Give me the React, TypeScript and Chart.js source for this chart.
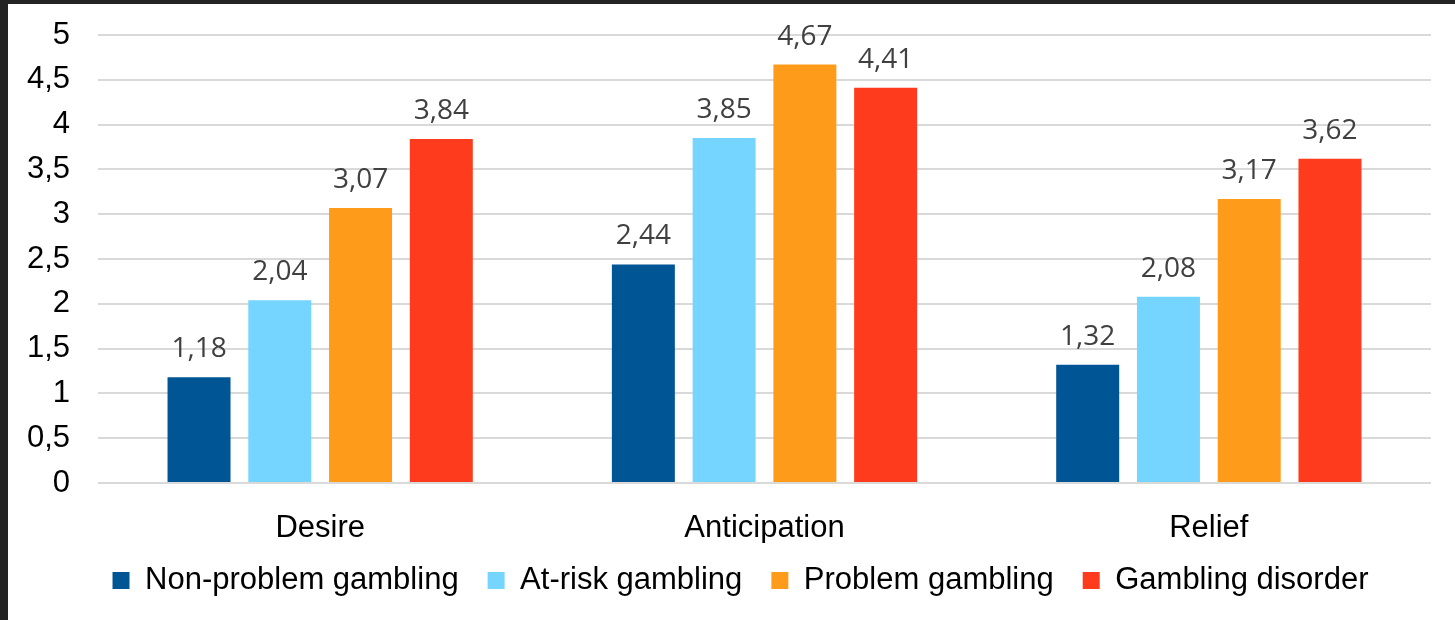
import React, { useEffect, useRef } from "react";
import { Chart, registerables } from "chart.js";

Chart.register(...registerables);

const categories = ["Desire", "Anticipation", "Relief"];
const seriesNames = ["Non-problem gambling", "At-risk gambling", "Problem gambling", "Gambling disorder"];
const nonProblem = [1.18, 2.44, 1.32];
const atRisk = [2.04, 3.85, 2.08];
const problem = [3.07, 4.67, 3.17];
const disorder = [3.84, 4.41, 3.62];
const seriesColors = ["#005594", "#75D5FE", "#FF9B1B", "#FF3B1D"];
const yMin = 0;
const yMax = 5;
const yStep = 0.5;

const fmtComma = (v: number, digits?: number) =>
  (digits !== undefined ? v.toFixed(digits) : String(v)).replace(".", ",");

const ARIAL = "'Liberation Sans', Arial, sans-serif";

const dataLabelPlugin = {
  id: "dataLabels",
  afterDatasetsDraw(chart: any) {
    const ctx = chart.ctx;
    ctx.save();
    ctx.font = "28px 'Open Sans', sans-serif";
    ctx.fillStyle = "#404040";
    ctx.textAlign = "center";
    ctx.textBaseline = "alphabetic";
    chart.data.datasets.forEach((ds: any, i: number) => {
      const meta = chart.getDatasetMeta(i);
      meta.data.forEach((bar: any, j: number) => {
        ctx.fillText(fmtComma(ds.data[j], 2), bar.x, bar.y - 20);
      });
    });
    ctx.restore();
  },
};

// nudge the legend row up a little, so the category labels keep room for descenders
const legendShiftPlugin = {
  id: "legendShift",
  afterLayout(chart: any) {
    const lg = chart.legend;
    if (lg) {
      lg.top -= 7;
      lg.bottom -= 7;
    }
  },
};

export default function App() {
  const canvasRef = useRef<HTMLCanvasElement | null>(null);

  useEffect(() => {
    if (!canvasRef.current) return;
    const values = [nonProblem, atRisk, problem, disorder];
    const chart = new Chart(canvasRef.current, {
      type: "bar",
      data: {
        labels: categories,
        datasets: seriesNames.map((name, i) => ({
          label: name,
          data: values[i],
          backgroundColor: seriesColors[i],
          borderWidth: 0,
          categoryPercentage: 0.727,
          barPercentage: 0.78,
          yAxisID: "y",
        })),
      },
      options: {
        animation: false,
        responsive: true,
        maintainAspectRatio: false,
        layout: { padding: { left: 18, right: 0, top: 31, bottom: 7 } },
        plugins: {
          tooltip: { enabled: false },
          legend: {
            position: "bottom",
            labels: {
              boxWidth: 17,
              boxHeight: 17,
              padding: 29,
              color: "#000000",
              font: { family: ARIAL, size: 31 },
            },
          },
        },
        scales: {
          x: {
            grid: { display: false },
            border: { display: false },
            ticks: { color: "#000000", font: { family: ARIAL, size: 31 }, padding: 19 },
            afterFit: (scale: any) => {
              scale.height = 60;
              scale.paddingLeft = 0;
              scale.paddingRight = 0;
            },
          },
          y: {
            min: yMin,
            max: yMax,
            border: { display: false },
            grid: { color: "#D9D9D9", lineWidth: 2, drawTicks: false },
            ticks: {
              stepSize: yStep,
              color: "#000000",
              font: { family: ARIAL, size: 31 },
              padding: 28,
              callback: (v: any) => fmtComma(Number(v)),
            },
            afterFit: (scale: any) => {
              scale.width = 72;
              scale.paddingTop = 0;
              scale.paddingBottom = 0;
            },
          },
          y2: {
            position: "right",
            display: true,
            grid: { display: false },
            border: { display: false },
            ticks: { display: false },
            afterFit: (scale: any) => {
              scale.width = 24;
              scale.paddingTop = 0;
              scale.paddingBottom = 0;
            },
          },
        },
      } as any,
      plugins: [dataLabelPlugin, legendShiftPlugin],
    });
    return () => chart.destroy();
  }, []);

  return (
    <div style={{ position: "fixed", left: 0, top: 0, width: 1455, height: 620, background: "#232323" }}>
      <div style={{ position: "absolute", left: 8, top: 4, width: 1447, height: 616, background: "#FFFFFF" }}>
        <canvas ref={canvasRef} />
      </div>
    </div>
  );
}
